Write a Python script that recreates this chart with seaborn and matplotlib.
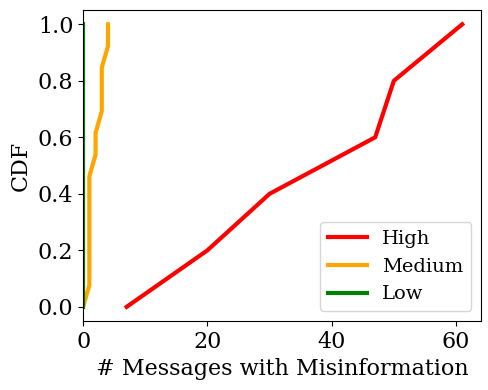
import matplotlib
matplotlib.use("Agg")
import matplotlib.pyplot as plt
import numpy as np
import pandas as pd
import seaborn as sns

# sorted message counts per group
high_counts = [7, 20, 30, 47, 50, 61]
medium_counts = [0, 1, 1, 1, 1, 1, 1, 2, 2, 3, 3, 3, 4, 4]
low_counts = [0, 0, 0]

groups = ["High", "Medium", "Low"]
colors = ["red", "orange", "green"]

plt.rcParams["font.family"] = "DejaVu Serif"


def cdf_frame(values, name):
    vals = np.sort(values)
    cdf = np.arange(len(vals)) / (len(vals) - 1)
    return pd.DataFrame({"x": vals, "cdf": cdf, "group": name})


fig, ax = plt.subplots(figsize=(4.89, 3.9), dpi=100)
for vals, name, col in zip([high_counts, medium_counts, low_counts], groups, colors):
    df = cdf_frame(vals, name)
    sns.lineplot(data=df, x="x", y="cdf", color=col, linewidth=3, label=name,
                 estimator=None, sort=False, ax=ax)

ax.set_xlim(left=0)
ax.set_xticks([0, 20, 40, 60])
ax.set_yticks([0.0, 0.2, 0.4, 0.6, 0.8, 1.0])
ax.tick_params(labelsize=16)
ax.set_xlabel("# Messages with Misinformation", fontsize=16)
ax.set_ylabel("CDF", fontsize=16)
ax.legend(loc="lower right", fontsize=14)

plt.subplots_adjust(left=0.17, right=0.984, top=0.974, bottom=0.177)
plt.savefig("out.png")
